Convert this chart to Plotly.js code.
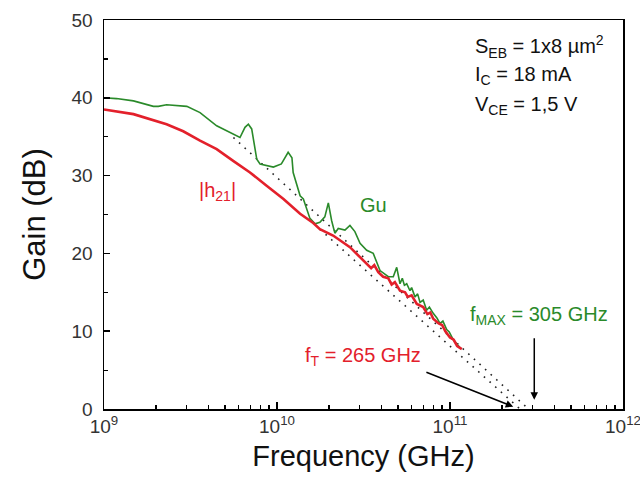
<!DOCTYPE html>
<html>
<head>
<meta charset="utf-8">
<script src="https://cdn.plot.ly/plotly-3.0.1.min.js"></script>
<style>html,body{margin:0;padding:0;background:#fff;}#chart{width:640px;height:493px;}</style>
</head>
<body>
<div id="chart"></div>
<script>
// ---- data (frequencies in GHz, gains in dB) ----
const h21Freq = [1.0, 1.48, 2.30, 2.87, 3.59, 4.48, 5.58, 6.98, 8.71, 10.9, 13.6, 16.2, 17.7, 21.1, 26.4, 33.0, 35.0, 36.5, 38.5, 41.1, 44.0, 46.0, 48.0, 51.4, 55.0, 57.0, 60.0, 64.3, 70.0, 74.0, 77.0, 80.0, 86.0, 90.0, 94.0, 100, 105, 110, 117];
const h21Gain = [38.5, 37.9, 36.6, 35.7, 34.5, 33.4, 31.9, 30.4, 28.7, 27.0, 25.1, 23.9, 23.1, 22.3, 20.8, 18.7, 18.1, 18.5, 17.6, 17.0, 16.8, 16.0, 16.3, 15.2, 15.0, 14.4, 14.6, 13.5, 13.1, 12.2, 12.4, 11.6, 11.0, 10.8, 10.0, 9.2, 8.9, 8.1, 7.7];

const guFreq = [1.0, 1.18, 1.48, 1.93, 2.06, 2.30, 3.01, 3.59, 4.48, 5.58, 6.11, 6.53, 6.83, 7.14, 7.64, 7.98, 9.53, 10.6, 11.6, 12.2, 12.4, 13.6, 14.2, 15.5, 16.6, 17.7, 18.9, 19.8, 20.7, 21.6, 22.6, 24.7, 26.4, 28.2, 30.2, 33.0, 36.0, 39.4, 44.0, 47.0, 49.2, 51.4, 53.0, 54.5, 56.2, 58.7, 60.0, 62.8, 65.0, 67.1, 70.0, 73.3, 76.0, 80.0, 84.0, 87.5, 91.0, 95.7, 99.0, 104.5, 114];
const guGain = [40.0, 39.9, 39.6, 38.9, 38.9, 39.1, 38.9, 38.1, 36.4, 35.3, 34.9, 36.2, 36.6, 36.0, 32.1, 31.5, 31.1, 31.5, 33.0, 32.3, 30.4, 27.4, 27.0, 24.5, 23.8, 24.0, 24.7, 26.5, 24.2, 22.6, 23.2, 23.0, 23.6, 22.8, 21.3, 20.4, 20.0, 17.8, 17.0, 17.0, 18.2, 16.1, 16.8, 15.9, 16.1, 15.2, 15.6, 14.4, 14.8, 13.7, 14.0, 12.7, 13.1, 12.3, 11.7, 11.0, 11.3, 10.2, 9.9, 8.9, 7.9];

// -20 dB/dec extrapolations
const guExtFreq = [5.6, 284];
const guExtGain = [34.9, 0];
const h21ExtFreq = [17.7, 254];
const h21ExtGain = [23.1, 0];

// markers for fT / fMAX
const fTArrowTip = [232, 0.3];   // GHz, dB
const fTArrowTail = [71.6, 4.8];
const fMaxArrowTip = [307, 1.2];
const fMaxArrowTail = [307, 9.3];

const xTickVals = [1e9, 1e10, 1e11, 1e12];
const xTickText = ['10<sup>9</sup>', '10<sup>10</sup>', '10<sup>11</sup>', '10<sup>12</sup>'];
const yTickVals = [0, 10, 20, 30, 40, 50];

const RED = '#e3202b';
const GREEN = '#2a8a2a';
const toHz = a => a.map(v => v * 1e9);
const lx = ghz => Math.log10(ghz * 1e9);

const minorX = [];
for (let d = 9; d < 12; d++) for (let k = 2; k <= 9; k++) minorX.push(k * Math.pow(10, d));

const traces = [
  {x: toHz(guExtFreq), y: guExtGain, mode: 'lines', line: {color: '#222', width: 1.6, dash: '1.6px,6px'}, hoverinfo: 'skip', showlegend: false},
  {x: toHz(h21ExtFreq), y: h21ExtGain, mode: 'lines', line: {color: '#222', width: 1.6, dash: '1.6px,6px'}, hoverinfo: 'skip', showlegend: false},
  {x: toHz(guFreq), y: guGain, mode: 'lines', name: 'Gu', line: {color: GREEN, width: 1.6}, showlegend: false},
  {x: toHz(h21Freq), y: h21Gain, mode: 'lines', name: '|h21|', line: {color: RED, width: 2.6}, showlegend: false}
];

const FONT = 'Liberation Sans, Arial, Helvetica, sans-serif';

const layout = {
  width: 640, height: 493,
  margin: {l: 104, r: 17, t: 20, b: 84},
  paper_bgcolor: '#fff', plot_bgcolor: '#fff',
  font: {family: FONT, color: '#111'},
  showlegend: false,
  xaxis: {
    type: 'log', range: [9, 12],
    tickmode: 'array', tickvals: xTickVals, ticktext: xTickText,
    ticks: 'inside', ticklen: 7, tickwidth: 1.5, tickcolor: '#000',
    showline: true, linewidth: 1.5, linecolor: '#000', mirror: true,
    showgrid: false, zeroline: false,
    ticklabeloverflow: 'allow',
    tickfont: {size: 19, color: '#333', family: FONT},
    minor: {tickmode: 'array', tickvals: minorX, ticks: 'inside', ticklen: 4, tickwidth: 1.2, tickcolor: '#000', showgrid: false},
    title: {text: 'Frequency (GHz)', font: {size: 29, color: '#111', family: FONT}, standoff: 9}
  },
  yaxis: {
    range: [0, 50],
    tickmode: 'array', tickvals: yTickVals,
    ticks: 'inside', ticklen: 6, tickwidth: 1.5, tickcolor: '#000',
    showline: true, linewidth: 1.5, linecolor: '#000', mirror: true,
    showgrid: false, zeroline: false,
    ticklabelstandoff: 6,
    tickfont: {size: 19, color: '#333', family: FONT},
    minor: {dtick: 5, ticks: 'inside', ticklen: 4, tickwidth: 1.2, tickcolor: '#000', showgrid: false},
    title: {text: 'Gain (dB)', font: {size: 31, color: '#111', family: FONT}, standoff: 16}
  },
  annotations: [
    {xref: 'paper', yref: 'paper', x: 0.711, y: 0.931, xanchor: 'left', yanchor: 'middle', showarrow: false,
     text: 'S<sub>EB</sub> = 1x8 µm<sup>2</sup>', font: {size: 20, color: '#111', family: FONT}},
    {xref: 'paper', yref: 'paper', x: 0.711, y: 0.858, xanchor: 'left', yanchor: 'middle', showarrow: false,
     text: 'I<sub>C</sub> = 18 mA', font: {size: 20, color: '#111', family: FONT}},
    {xref: 'paper', yref: 'paper', x: 0.711, y: 0.779, xanchor: 'left', yanchor: 'middle', showarrow: false,
     text: 'V<sub>CE</sub> = 1,5 V', font: {size: 20, color: '#111', family: FONT}},
    {x: lx(4.53), y: 28.0, showarrow: false, text: '|h<sub>21</sub>|', font: {size: 20, color: RED, family: FONT}},
    {x: lx(36.1), y: 26.2, showarrow: false, text: 'Gu', font: {size: 20, color: GREEN, family: FONT}},
    {x: lx(14.2), y: 6.8, xanchor: 'left', showarrow: false, text: 'f<sub>T</sub> = 265 GHz', font: {size: 20, color: RED, family: FONT}},
    {x: lx(127), y: 12.0, xanchor: 'left', showarrow: false, text: 'f<sub>MAX</sub> = 305 GHz', font: {size: 20, color: GREEN, family: FONT}},
    {x: lx(fTArrowTip[0]), y: fTArrowTip[1], axref: 'x', ayref: 'y', ax: lx(fTArrowTail[0]), ay: fTArrowTail[1],
     showarrow: true, arrowhead: 2, arrowsize: 1, arrowwidth: 1.5, arrowcolor: '#000', text: ''},
    {x: lx(fMaxArrowTip[0]), y: fMaxArrowTip[1], axref: 'x', ayref: 'y', ax: lx(fMaxArrowTail[0]), ay: fMaxArrowTail[1],
     showarrow: true, arrowhead: 2, arrowsize: 1, arrowwidth: 1.5, arrowcolor: '#000', text: ''}
  ]
};

Plotly.newPlot('chart', traces, layout, {staticPlot: true, displayModeBar: false});
</script>
</body>
</html>
